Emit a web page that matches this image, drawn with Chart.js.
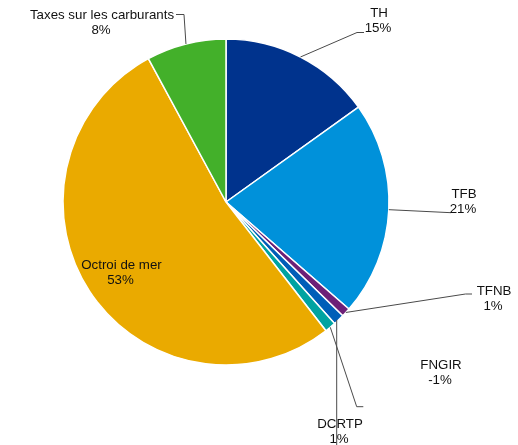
<!DOCTYPE html>
<html>
<head>
<meta charset="utf-8">
<script src="https://cdn.jsdelivr.net/npm/chart.js@4/dist/chart.umd.min.js"></script>
<style>
  html, body { margin: 0; padding: 0; background: #ffffff; }
  #wrap { width: 518px; height: 445px; position: relative; }
</style>
</head>
<body>
<div id="wrap"><canvas id="c" width="518" height="445"></canvas></div>
<script>
// Répartition des recettes fiscales (parts en %, FNGIR négatif)
const categories = ['TH', 'TFB', 'TFNB', 'DCRTP', 'FNGIR', 'Octroi de mer', 'Taxes sur les carburants'];
const shares = [15.1, 21.3, 0.9, 1.1, -1.1, 52.6, 7.9];
const colors = ['#00338D', '#0091DA', '#6D2077', '#005EB8', '#00A3A1', '#EAAA00', '#43B02A'];

const absTotal = shares.reduce((s, v) => s + Math.abs(v), 0);
const pctLabels = shares.map(v => Math.round(v / absTotal * 100) + '%');

// Placement of each data label: text centre, line spacing, and leader path
const labelLayout = [
  { x: 379, y: 13, leader: [[357, 32.5], [364, 32.5]] },          // TH
  { x: 464, y: 194, leader: [[451, 212.7]] },                     // TFB
  { x: 494, y: 291, leader: [[465.5, 294], [472, 294]] },         // TFNB
  { x: 340, y: 424, leader: [[336.7, 445]], vertical: true },     // DCRTP
  { x: 441, y: 365, leader: [[356.7, 406.7], [363.3, 406.7]] },   // FNGIR
  { x: 121.5, y: 265, leader: null },                             // Octroi de mer
  { x: 102, y: 15, leader: [[184, 14.5], [176, 14.5]] }           // Taxes sur les carburants
];

const labelPlugin = {
  id: 'pieLabels',
  afterDatasetsDraw(chart) {
    const ctx = chart.ctx;
    const arcs = chart.getDatasetMeta(0).data;
    ctx.save();
    // leader lines
    ctx.strokeStyle = '#4a4a4a';
    ctx.lineWidth = 1;
    arcs.forEach((arc, i) => {
      const lay = labelLayout[i];
      if (!lay.leader) return;
      const p = arc.getProps(['x', 'y', 'startAngle', 'endAngle', 'outerRadius'], true);
      const mid = (p.startAngle + p.endAngle) / 2;
      let sx = p.x + Math.cos(mid) * p.outerRadius;
      let sy = p.y + Math.sin(mid) * p.outerRadius;
      ctx.beginPath();
      if (lay.vertical) {
        sx = lay.leader[0][0];
      }
      ctx.moveTo(sx, sy);
      lay.leader.forEach(pt => ctx.lineTo(pt[0], pt[1]));
      ctx.stroke();
    });
    // texts
    ctx.fillStyle = '#111111';
    ctx.font = '13.3px "Liberation Sans", Arial, sans-serif';
    ctx.textAlign = 'center';
    ctx.textBaseline = 'middle';
    arcs.forEach((arc, i) => {
      const lay = labelLayout[i];
      ctx.fillText(categories[i], lay.x, lay.y);
      ctx.fillText(pctLabels[i], lay.x - 1, lay.y + 15);
    });
    ctx.restore();
  }
};

new Chart(document.getElementById('c'), {
  type: 'pie',
  data: {
    labels: categories,
    datasets: [{
      data: shares.map(v => Math.abs(v)),
      backgroundColor: colors,
      borderColor: '#ffffff',
      borderWidth: 1.5,
      radius: 163
    }]
  },
  options: {
    responsive: false,
    animation: false,
    layout: { padding: { left: 63, right: 129, top: 39, bottom: 80 } },
    plugins: {
      legend: { display: false },
      tooltip: { enabled: false }
    }
  },
  plugins: [labelPlugin]
});
</script>
</body>
</html>
